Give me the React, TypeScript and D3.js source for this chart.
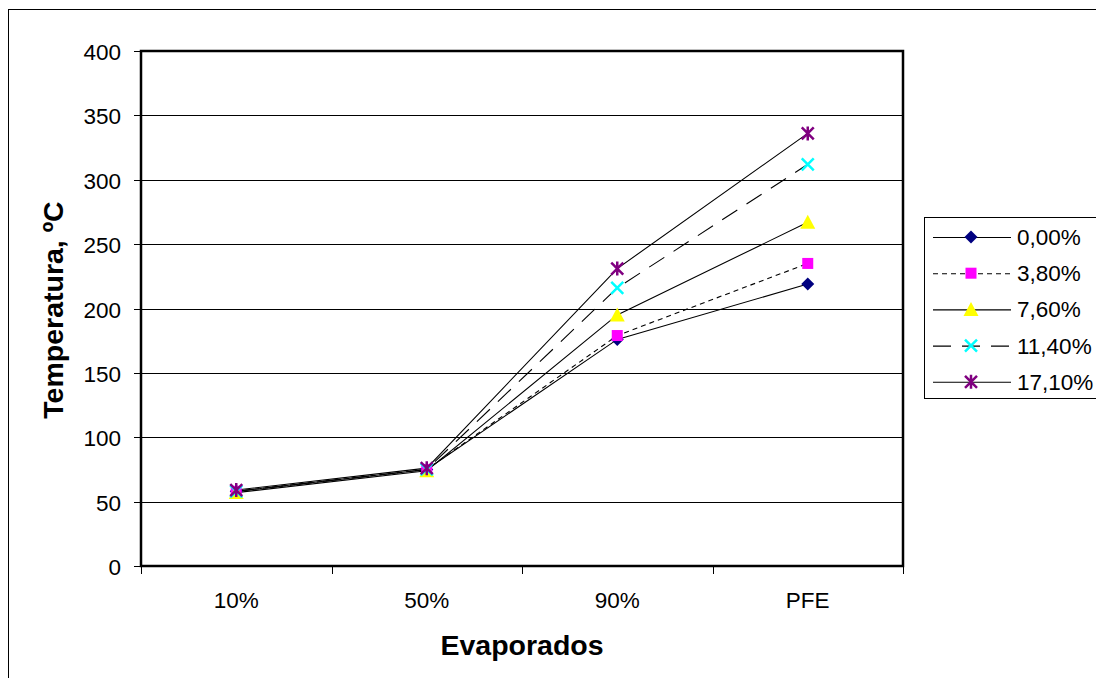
import React, { useEffect, useRef } from "react";
import * as d3 from "d3";

const categories = ["10%", "50%", "90%", "PFE"];
const seriesNames = ["0,00%", "3,80%", "7,60%", "11,40%", "17,10%"];
const values0 = [58, 75, 176, 219];
const values38 = [58, 75, 179, 235];
const values76 = [57, 74, 195, 267];
const values114 = [58, 75, 216, 312];
const values171 = [59, 76, 231, 336];
const yTicks = [0, 50, 100, 150, 200, 250, 300, 350, 400];

const seriesValues = [values0, values38, values76, values114, values171];
const colors = ["#000080", "#ff00ff", "#ffff00", "#00ffff", "#800080"];
const dashes = [null, "5,4", null, "18,11", null];
const markers = ["diamond", "square", "triangle", "x", "star"];

const FONT = "'Liberation Sans', Arial, sans-serif";

function drawMarker(g: any, type: string, x: number, y: number, color: string) {
  if (type === "diamond") {
    g.append("path")
      .attr("d", `M${x},${y - 6.5}L${x + 6.5},${y}L${x},${y + 6.5}L${x - 6.5},${y}Z`)
      .attr("fill", color);
  } else if (type === "square") {
    g.append("rect")
      .attr("x", x - 5.5).attr("y", y - 5.5)
      .attr("width", 11).attr("height", 11)
      .attr("fill", color);
  } else if (type === "triangle") {
    g.append("path")
      .attr("d", `M${x},${y - 7.5}L${x + 7.5},${y + 6.5}L${x - 7.5},${y + 6.5}Z`)
      .attr("fill", color);
  } else if (type === "x") {
    g.append("path")
      .attr("d", `M${x - 6},${y - 6}L${x + 6},${y + 6}M${x + 6},${y - 6}L${x - 6},${y + 6}`)
      .attr("stroke", color).attr("stroke-width", 2.5);
  } else {
    g.append("path")
      .attr("d", `M${x - 6},${y - 6}L${x + 6},${y + 6}M${x + 6},${y - 6}L${x - 6},${y + 6}M${x},${y - 7}L${x},${y + 7}`)
      .attr("stroke", color).attr("stroke-width", 2.5);
  }
}

export default function App() {
  const svgRef = useRef<SVGSVGElement>(null);

  useEffect(() => {
    if (!svgRef.current) return;
    const svg = d3.select(svgRef.current);
    svg.selectAll("*").remove();

    // work in page coordinates
    const root = svg.append("g").attr("transform", "translate(-8,-8)");

    // outer chart border
    root.append("rect")
      .attr("x", 8.5).attr("y", 9.5)
      .attr("width", 1200).attr("height", 800)
      .attr("fill", "white").attr("stroke", "black").attr("stroke-width", 1);

    const left = 141, right = 903, top = 51, bottom = 566;

    const x = d3.scaleBand().domain(categories).range([left, right]);
    const y = d3.scaleLinear().domain([0, 400]).range([bottom, top]);

    // gridlines
    root.append("g")
      .selectAll("line")
      .data(yTicks.filter((t) => t > 0))
      .join("line")
      .attr("x1", left).attr("x2", right)
      .attr("y1", (d) => Math.round(y(d)) + 0.5)
      .attr("y2", (d) => Math.round(y(d)) + 0.5)
      .attr("stroke", "black").attr("stroke-width", 1);

    // y ticks and labels
    const yAxis = root.append("g");
    yTicks.forEach((t) => {
      const yy = Math.round(y(t)) + 0.5;
      yAxis.append("line")
        .attr("x1", left - 7).attr("x2", left)
        .attr("y1", yy).attr("y2", yy)
        .attr("stroke", "black");
      yAxis.append("text")
        .attr("x", 121).attr("y", yy + 8)
        .attr("text-anchor", "end")
        .style("font-family", FONT).style("font-size", "22.5px")
        .text(t);
    });

    // x ticks and labels
    const xAxis = root.append("g");
    const xTickPos = categories.map((c) => x(c)!).concat([right]);
    xTickPos.forEach((p) => {
      xAxis.append("line")
        .attr("x1", Math.round(p) + 0.5).attr("x2", Math.round(p) + 0.5)
        .attr("y1", bottom).attr("y2", bottom + 8)
        .attr("stroke", "black");
    });
    categories.forEach((c) => {
      xAxis.append("text")
        .attr("x", x(c)! + x.bandwidth() / 2).attr("y", 608)
        .attr("text-anchor", "middle")
        .style("font-family", FONT).style("font-size", "22.5px")
        .text(c);
    });

    // plot border
    root.append("rect")
      .attr("x", left).attr("y", top)
      .attr("width", right - left).attr("height", bottom - top)
      .attr("fill", "none").attr("stroke", "black").attr("stroke-width", 2.5);

    // series lines
    const line = d3.line<number>()
      .x((_, i) => x(categories[i])! + x.bandwidth() / 2)
      .y((d) => y(d));

    seriesValues.forEach((vals, si) => {
      root.append("path")
        .datum(vals)
        .attr("d", line)
        .attr("fill", "none")
        .attr("stroke", "black")
        .attr("stroke-width", 1.1)
        .attr("stroke-dasharray", dashes[si]);
    });
    seriesValues.forEach((vals, si) => {
      const g = root.append("g");
      vals.forEach((v, i) => {
        drawMarker(g, markers[si], x(categories[i])! + x.bandwidth() / 2, y(v), colors[si]);
      });
    });

    // axis titles
    root.append("text")
      .attr("x", 522).attr("y", 655)
      .attr("text-anchor", "middle")
      .style("font-family", FONT).style("font-size", "28.5px").style("font-weight", "bold")
      .text("Evaporados");
    root.append("text")
      .attr("transform", "translate(63,310) rotate(-90)")
      .attr("text-anchor", "middle")
      .style("font-family", FONT).style("font-size", "28.5px").style("font-weight", "bold")
      .text("Temperatura, ºC");

    // legend
    const legend = root.append("g");
    legend.append("rect")
      .attr("x", 924.5).attr("y", 217.5)
      .attr("width", 200).attr("height", 181)
      .attr("fill", "white").attr("stroke", "black").attr("stroke-width", 1);
    seriesNames.forEach((name, si) => {
      const ly = 237 + si * 36.2;
      legend.append("line")
        .attr("x1", 933).attr("x2", 1011)
        .attr("y1", ly + 0.5).attr("y2", ly + 0.5)
        .attr("stroke", "black").attr("stroke-width", 1.1)
        .attr("stroke-dasharray", dashes[si]);
      drawMarker(legend, markers[si], 971, ly, colors[si]);
      legend.append("text")
        .attr("x", 1017).attr("y", ly + 8)
        .style("font-family", FONT).style("font-size", "22.5px")
        .text(name);
    });
  }, []);

  return (
    <svg ref={svgRef} width={1096} height={678} style={{ display: "block", marginBottom: -8 }}></svg>
  );
}
